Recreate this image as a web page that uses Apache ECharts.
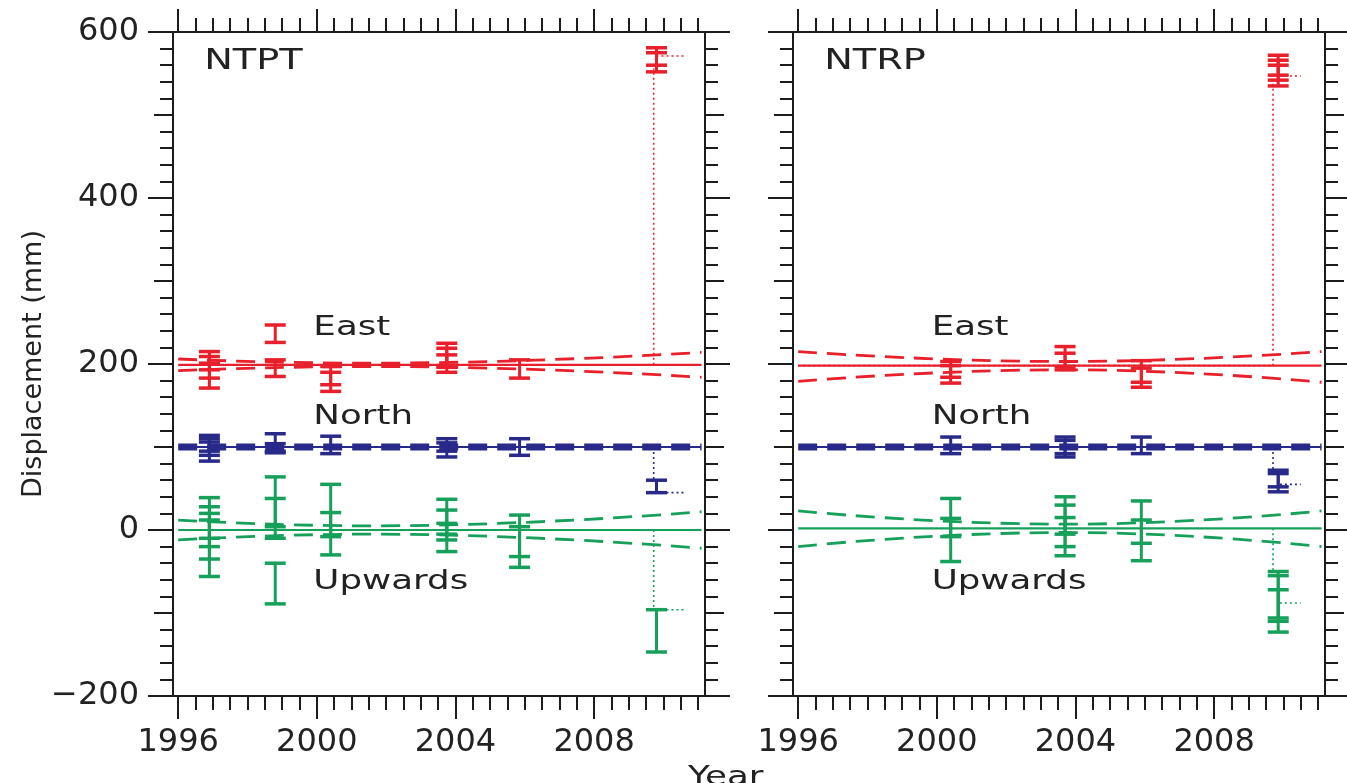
<!DOCTYPE html>
<html><head><meta charset="utf-8">
<script src="https://cdn.jsdelivr.net/npm/echarts@6/dist/echarts.min.js"></script>
<style>html,body{margin:0;padding:0;background:#fff}#c{width:1347px;height:783px}</style>
</head><body><div id="c"></div>
<script>
// ---------- tick labels ----------
const majorYears = [1996, 2000, 2004, 2008];
const yearTickLabels = ['1996', '2000', '2004', '2008'];
const yTickValues = [-200, 0, 200, 400, 600];
const yTickLabels = ['\u2212200', '0', '200', '400', '600'];

// ---------- NTPT (left panel): error bars [year, low, high] ----------
const ntptEast = [
  [1996.9, 171, 215], [1996.9, 183, 209], [1996.9, 193, 201],
  [1998.8, 226, 247], [1998.8, 185, 205],
  [2000.4, 167, 197], [2000.4, 175, 190],
  [2003.75, 190, 225], [2003.75, 196, 219], [2003.75, 198, 211],
  [2005.85, 183, 205],
  [2009.8, 552, 581], [2009.8, 560, 575]
];
const ntptNorth = [
  [1996.9, 83, 114], [1996.9, 90, 110], [1996.9, 95, 106],
  [1998.8, 93, 116], [1998.8, 95, 104],
  [2000.4, 92, 113],
  [2003.75, 88, 110], [2003.75, 95, 105],
  [2005.85, 90, 110],
  [2009.8, 45, 60]
];
const ntptUp = [
  [1996.9, -56, 39], [1996.9, -35, 28], [1996.9, -20, 20], [1996.9, -10, 12],
  [1998.8, -10, 64], [1998.8, 4, 38], [1998.8, -89, -40],
  [2000.4, -30, 55], [2000.4, -8, 21],
  [2003.75, -26, 37], [2003.75, -12, 24], [2003.75, -5, 8],
  [2005.85, -45, 18], [2005.85, -32, 4],
  [2009.8, -147, -96]
];
// fitted trends and confidence bounds
const ntptEastFit = [[1996, 199], [2011.1, 199]];
const ntptEastUpper = [[1996, 206], [2001.5, 201], [2011.1, 214]];
const ntptEastLower = [[1996, 192], [2001.5, 197], [2011.1, 184]];
const ntptNorthFit = [[1996, 100], [2011.1, 100]];
const ntptNorthUpper = [[1996, 102.5], [2011.1, 102.5]];
const ntptNorthLower = [[1996, 97.5], [2011.1, 97.5]];
const ntptUpFit = [[1996, 0], [2011.1, 0]];
const ntptUpUpper = [[1996, 12], [2001.5, 5], [2011.1, 22]];
const ntptUpLower = [[1996, -12], [2001.5, -5], [2011.1, -22]];
// offsets (dotted)
const ntptEastJump = [[2009.72, 199], [2009.72, 556]];
const ntptEastPost = [[2009.8, 571], [2010.6, 571]];
const ntptNorthJump = [[2009.72, 100], [2009.72, 58]];
const ntptNorthPost = [[2009.8, 45], [2010.6, 45]];
const ntptUpJump = [[2009.72, 0], [2009.72, -96]];
const ntptUpPost = [[2009.8, -96], [2010.6, -96]];

// ---------- NTRP (right panel) ----------
const ntrpEast = [
  [2000.4, 177, 203], [2000.4, 184, 198],
  [2003.7, 193, 221], [2003.7, 197, 213],
  [2005.9, 172, 204], [2005.9, 178, 195],
  [2009.85, 535, 572], [2009.85, 542, 566], [2009.85, 548, 560]
];
const ntrpNorth = [
  [2000.4, 92, 112],
  [2003.7, 88, 112], [2003.7, 92, 108],
  [2005.9, 92, 112],
  [2009.85, 46, 72], [2009.85, 52, 68]
];
const ntrpUp = [
  [2000.4, -38, 38], [2000.4, -8, 14],
  [2003.7, -31, 40], [2003.7, -20, 30], [2003.7, -5, 15],
  [2005.9, -37, 35], [2005.9, -16, 12],
  [2009.85, -123, -50], [2009.85, -110, -55], [2009.85, -106, -72]
];
const ntrpEastFit = [[1996, 198], [2011.1, 198]];
const ntrpEastDot = [[1996, 198], [2009.7, 198]];
const ntrpEastUpper = [[1996, 215], [2003.7, 203], [2011.1, 215]];
const ntrpEastLower = [[1996, 179], [2003.7, 193], [2011.1, 178]];
const ntrpNorthFit = [[1996, 100], [2011.1, 100]];
const ntrpNorthUpper = [[1996, 102.5], [2011.1, 102.5]];
const ntrpNorthLower = [[1996, 97.5], [2011.1, 97.5]];
const ntrpUpFit = [[1996, 2], [2011.1, 2]];
const ntrpUpUpper = [[1996, 23], [2003.7, 7], [2011.1, 23]];
const ntrpUpLower = [[1996, -20], [2003.7, -3], [2011.1, -20]];
const ntrpEastJump = [[2009.7, 198], [2009.7, 538]];
const ntrpEastPost = [[2009.9, 547], [2010.5, 547]];
const ntrpNorthJump = [[2009.7, 100], [2009.7, 70]];
const ntrpNorthPost = [[2009.9, 55], [2010.5, 55]];
const ntrpUpJump = [[2009.7, 2], [2009.7, -52]];
const ntrpUpPost = [[2009.9, -88], [2010.5, -88]];

// ---------- annotation texts ----------
const ntptTexts = ['NTPT', 'East', 'North', 'Upwards'];
const ntptTextAnchors = [[1996.75, 564], [1999.9, 243], [1999.9, 136], [1999.9, -63]];
const ntrpTexts = ['NTRP', 'East', 'North', 'Upwards'];
const ntrpTextAnchors = [[1996.75, 564], [1999.85, 243], [1999.85, 136], [1999.85, -63]];

// ---------- styling ----------
const RED = '#e8202c', BLUE = '#282a8a', GREEN = '#16a05a';
const AX = '#1c1c1c', TXT = '#222';
const FONT = 'DejaVu Sans';
const XMIN = 1995.85, XMAX = 2011.2;
const minorYears = [];
for (let k = 0; k <= 30; k++) { const v = 1996 + k * 0.5; if (majorYears.indexOf(v) < 0) minorYears.push(v); }

const lineSt = { color: AX, width: 2 };

function xAxesFor(g) {
  const base = { type: 'value', gridIndex: g, min: XMIN, max: XMAX, splitLine: { show: false } };
  return [
    Object.assign({}, base, { position: 'bottom', axisLine: { onZero: false, lineStyle: lineSt },
      axisTick: { customValues: majorYears, length: 23, lineStyle: lineSt },
      axisLabel: { customValues: majorYears, formatter: v => yearTickLabels[majorYears.indexOf(v)],
        margin: 31, fontSize: 32, color: TXT, fontFamily: FONT } }),
    Object.assign({}, base, { position: 'bottom', axisLine: { show: false, onZero: false },
      axisTick: { customValues: minorYears, length: 14, lineStyle: lineSt }, axisLabel: { show: false } }),
    Object.assign({}, base, { position: 'top', axisLine: { onZero: false, lineStyle: lineSt },
      axisTick: { customValues: majorYears, length: 23, lineStyle: lineSt }, axisLabel: { show: false } }),
    Object.assign({}, base, { position: 'top', axisLine: { show: false, onZero: false },
      axisTick: { customValues: minorYears, length: 14, lineStyle: lineSt }, axisLabel: { show: false } })
  ];
}
function yAxesFor(g, showLabels) {
  const base = { type: 'value', gridIndex: g, min: -200, max: 600, splitLine: { show: false } };
  const first = Object.assign({}, base, { position: 'left', interval: 200,
    axisLine: { onZero: false, lineStyle: lineSt },
    axisTick: { length: 25, lineStyle: lineSt },
    axisLabel: { show: showLabels, margin: 34, fontSize: 32, color: TXT, fontFamily: FONT,
      formatter: v => yTickLabels[yTickValues.indexOf(v)] } });
  if (showLabels) {
    first.name = 'Displacement (mm)';
    first.nameLocation = 'middle';
    first.nameGap = 112;
    first.nameTextStyle = { fontSize: 27, color: TXT, fontFamily: FONT };
  }
  const minor = { show: true, splitNumber: 5, length: 13, lineStyle: lineSt };
  return [
    first,
    Object.assign({}, base, { position: 'left', interval: 100, axisLine: { show: false, onZero: false },
      axisTick: { length: 19, lineStyle: lineSt }, minorTick: minor, axisLabel: { show: false } }),
    Object.assign({}, base, { position: 'right', interval: 200, axisLine: { onZero: false, lineStyle: lineSt },
      axisTick: { length: 25, lineStyle: lineSt }, axisLabel: { show: false } }),
    Object.assign({}, base, { position: 'right', interval: 100, axisLine: { show: false, onZero: false },
      axisTick: { length: 19, lineStyle: lineSt }, minorTick: minor, axisLabel: { show: false } })
  ];
}

function errS(data, color, ai) {
  return {
    type: 'custom', xAxisIndex: ai, yAxisIndex: ai, data: data, encode: { x: 0, y: [1, 2] },
    z: 5, silent: true, animation: false,
    renderItem: function (params, api) {
      const x = api.value(0);
      const a = api.coord([x, api.value(1)]);
      const b = api.coord([x, api.value(2)]);
      const w = 10.5;
      return { type: 'group', children: [
        { type: 'line', shape: { x1: a[0], y1: a[1], x2: b[0], y2: b[1] }, style: { stroke: color, lineWidth: 3 } },
        { type: 'line', shape: { x1: a[0] - w, y1: a[1], x2: a[0] + w, y2: a[1] }, style: { stroke: color, lineWidth: 3.5 } },
        { type: 'line', shape: { x1: b[0] - w, y1: b[1], x2: b[0] + w, y2: b[1] }, style: { stroke: color, lineWidth: 3.5 } }
      ] };
    }
  };
}
function lineS(data, color, kind, ai) {
  const st = kind === 'solid' ? { type: 'solid', width: 2.2 } :
             kind === 'dash' ? { type: [19, 10], width: 2.8 } : { type: [2, 3], width: 1.6 };
  return { type: 'line', xAxisIndex: ai, yAxisIndex: ai, data: data, symbol: 'none',
    smooth: data.length > 2 ? 0.5 : false, silent: true, animation: false, z: 3,
    lineStyle: Object.assign({ color: color }, st) };
}
function textS(texts, anchors, ai) {
  return { type: 'custom', xAxisIndex: ai, yAxisIndex: ai, data: anchors, encode: { x: 0, y: 1 },
    z: 6, silent: true, animation: false, clip: false,
    renderItem: function (params, api) {
      const p = api.coord([api.value(0), api.value(1)]);
      const big = params.dataIndex === 0;
      return { type: 'text', x: p[0], y: p[1], scaleX: 1.32,
        style: { text: texts[params.dataIndex], fill: TXT, align: 'left', verticalAlign: 'middle',
          font: (big ? 29 : 27) + 'px "' + FONT + '"' } };
    } };
}

const series = [];
function panel(ai, d) {
  series.push(lineS(d.eF, RED, 'solid', ai), lineS(d.eU, RED, 'dash', ai), lineS(d.eL, RED, 'dash', ai),
    lineS(d.nF, BLUE, 'solid', ai), lineS(d.nU, BLUE, 'dash', ai), lineS(d.nL, BLUE, 'dash', ai),
    lineS(d.uF, GREEN, 'solid', ai), lineS(d.uU, GREEN, 'dash', ai), lineS(d.uL, GREEN, 'dash', ai),
    lineS(d.eJ, RED, 'dot', ai), lineS(d.eP, RED, 'dot', ai),
    lineS(d.nJ, BLUE, 'dot', ai), lineS(d.nP, BLUE, 'dot', ai),
    lineS(d.uJ, GREEN, 'dot', ai), lineS(d.uP, GREEN, 'dot', ai),
    errS(d.e, RED, ai), errS(d.n, BLUE, ai), errS(d.u, GREEN, ai),
    textS(d.t, d.ta, ai));
}
panel(0, { e: ntptEast, n: ntptNorth, u: ntptUp,
  eF: ntptEastFit, eU: ntptEastUpper, eL: ntptEastLower,
  nF: ntptNorthFit, nU: ntptNorthUpper, nL: ntptNorthLower,
  uF: ntptUpFit, uU: ntptUpUpper, uL: ntptUpLower,
  eJ: ntptEastJump, eP: ntptEastPost, nJ: ntptNorthJump, nP: ntptNorthPost, uJ: ntptUpJump, uP: ntptUpPost,
  t: ntptTexts, ta: ntptTextAnchors });
panel(4, { e: ntrpEast, n: ntrpNorth, u: ntrpUp,
  eF: ntrpEastFit, eU: ntrpEastUpper, eL: ntrpEastLower,
  nF: ntrpNorthFit, nU: ntrpNorthUpper, nL: ntrpNorthLower,
  uF: ntrpUpFit, uU: ntrpUpUpper, uL: ntrpUpLower,
  eJ: ntrpEastJump, eP: ntrpEastPost, nJ: ntrpNorthJump, nP: ntrpNorthPost, uJ: ntrpUpJump, uP: ntrpUpPost,
  t: ntrpTexts, ta: ntrpTextAnchors });
series.push(lineS(ntrpEastDot, RED, 'dot', 4));

const chart = echarts.init(document.getElementById('c'), null, { renderer: 'canvas' });
chart.setOption({
  backgroundColor: '#fff',
  animation: false,
  grid: [
    { left: 173, top: 32, width: 532, height: 664 },
    { left: 793, top: 32, width: 532, height: 664 }
  ],
  xAxis: xAxesFor(0).concat(xAxesFor(1)),
  yAxis: yAxesFor(0, true).concat(yAxesFor(1, false)),
  series: series,
  graphic: [{ type: 'text', left: 688, top: 764, scaleX: 1.32,
    style: { text: 'Year', fill: TXT, font: '27px "' + FONT + '"' } }]
});
</script></body></html>
